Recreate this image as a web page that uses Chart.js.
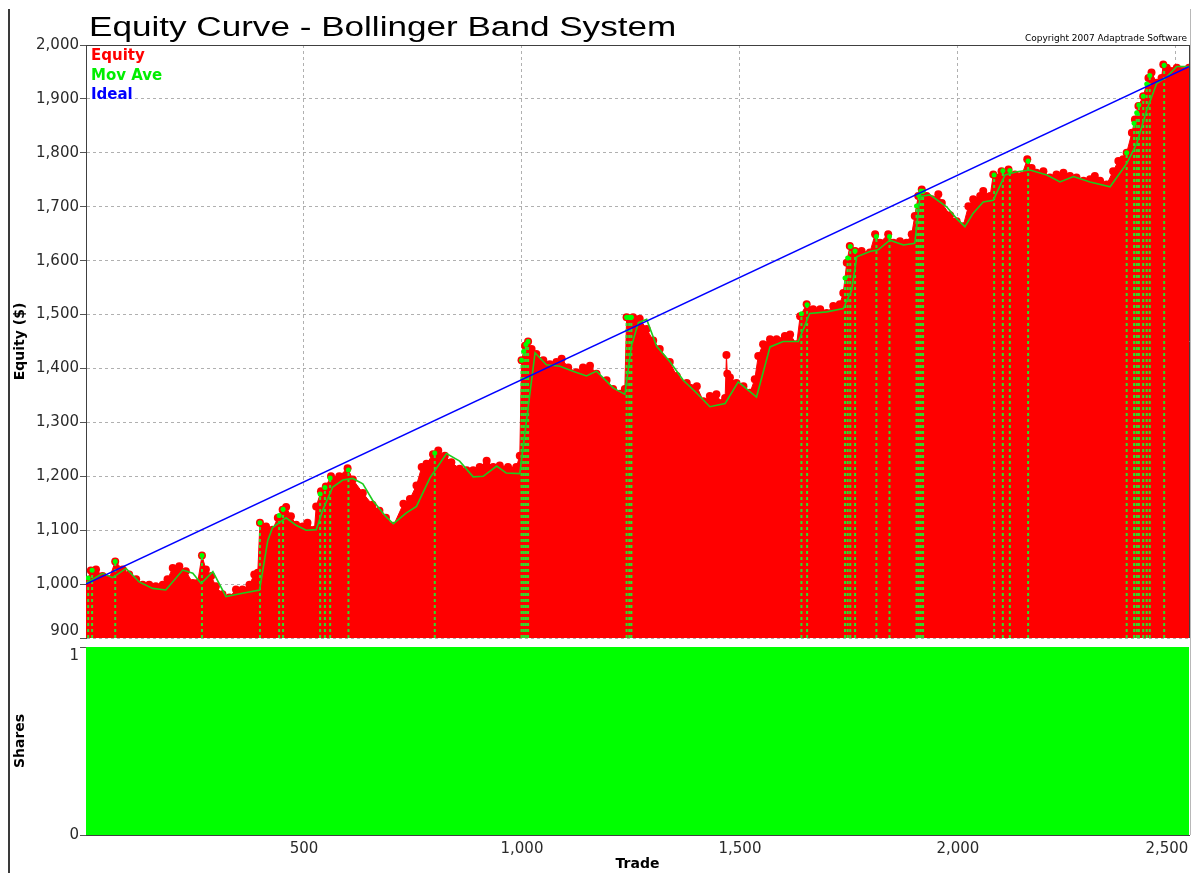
<!DOCTYPE html>
<html><head><meta charset="utf-8">
<script src="https://cdn.jsdelivr.net/npm/chart.js@4.4.1/dist/chart.umd.min.js"></script>
<style>
html,body{margin:0;padding:0;background:#fff;}
#wrap{position:relative;width:1194px;height:873px;overflow:hidden;background:#fff;}
canvas{position:absolute;left:0;top:0;}
.edgeL{position:absolute;left:8px;top:9px;width:2px;height:864px;background:#3a3a3a;}
.edgeR{position:absolute;left:1190px;top:9px;width:1px;height:826px;background:#b8b8b8;}
</style></head><body>
<div id="wrap">
<div class="edgeL"></div><div class="edgeR"></div>
<canvas id="eq" width="1194" height="873"></canvas>
<canvas id="sh" width="1194" height="873"></canvas>
</div>
<script>
const chartTitle = 'Equity Curve - Bollinger Band System';
const copyrightText = 'Copyright 2007 Adaptrade Software';

const equityTrades = [0,11,23,38,53,67,84,99,115,130,145,160,176,187,199,214,229,245,256,266,275,287,298,313,329,344,359,375,386,394,
399,413,428,440,451,459,470,482,497,508,524,528,539,550,562,581,600,612,635,657,673,688,705,728,743,758,770,781,796,808,
823,838,857,873,888,903,919,934,949,968,987,995,999,1007,1014,1022,1033,1049,1064,1079,1091,1106,1125,1140,1156,1171,1194,1209,1225,1236,
1240,1255,1270,1286,1301,1316,1339,1355,1378,1401,1416,1431,1446,1458,1466,1469,1471,1477,1492,1508,1523,1534,1542,1553,1569,1584,1603,1615,1630,
1638,1653,1668,1684,1699,1714,1729,1737,1745,1752,1764,1779,1798,1810,1821,1840,1852,1867,1882,1894,1901,1909,1917,1928,1940,1955,1963,
1982,1997,2012,2024,2035,2051,2058,2074,2081,2093,2100,2116,2131,2146,2159,2169,2180,2196,2211,2226,2242,2257,2272,2288,2303,2314,2326,2341,
2356,2368,2379,2387,2399,2406,2414,2425,2437,2444,2456,2467,2471,2479,2502,2530];
const equityValues = [1000,1025,1027,1015,1009,1042,1027,1018,1009,999,999,996,999,1009,1030,1033,1024,1002,1002,1053,1027,1015,996,981,975,990,990,999,1018,1021,
1114,1107,1101,1123,1138,1143,1126,1110,1107,1114,1101,1144,1172,1181,1200,1200,1215,1194,1169,1147,1136,1123,1108,1149,1158,1183,1217,1223,1241,1248,
1238,1226,1214,1211,1211,1217,1229,1217,1220,1217,1217,1238,1415,1442,1450,1436,1427,1415,1408,1412,1418,1402,1393,1402,1405,1390,1378,1362,1353,1362,
1495,1495,1492,1473,1452,1436,1412,1386,1373,1367,1339,1349,1352,1336,1345,1425,1390,1383,1373,1367,1355,1380,1423,1445,1454,1454,1460,1463,1445,
1497,1519,1510,1510,1503,1516,1519,1540,1596,1627,1618,1618,1615,1649,1633,1649,1633,1636,1633,1649,1683,1720,1732,1720,1714,1723,1707,
1684,1673,1664,1701,1714,1720,1729,1720,1760,1754,1766,1769,1760,1757,1788,1772,1763,1766,1754,1760,1763,1757,1754,1748,1751,1757,1748,1741,
1766,1785,1788,1800,1837,1862,1887,1905,1939,1949,1930,1939,1964,1958,1958,1958];

const movAveTrades = [0,38,61,92,122,153,183,222,245,264,291,321,359,398,417,428,459,482,505,528,543,566,589,612,635,657,688,705,735,758,
789,827,857,888,911,942,964,995,1030,1056,1087,1117,1148,1171,1209,1236,1251,1267,1286,1309,1339,1370,1401,1431,1466,1496,1538,1569,1599,1634,
1660,1699,1737,1756,1768,1798,1817,1844,1875,1901,1913,1936,1974,1997,2016,2035,2058,2081,2108,2135,2165,2204,2234,2265,2303,2349,2387,2410,2433,2456,
2479,2502,2530];
const movAveValues = [1001,1020,1012,1029,1004,992,989,1026,1020,1001,1023,977,983,989,1081,1105,1123,1109,1100,1101,1137,1180,1193,1196,1186,1156,1125,1112,1132,1144,
1197,1242,1228,1199,1200,1219,1206,1205,1429,1407,1404,1395,1386,1395,1364,1352,1441,1485,1491,1441,1413,1378,1354,1329,1335,1375,1347,1440,1450,1450,
1502,1505,1511,1545,1607,1617,1620,1638,1629,1632,1719,1722,1700,1678,1663,1688,1709,1712,1759,1765,1768,1759,1746,1756,1746,1737,1780,1817,1879,1929,
1941,1960,1960];

const idealTrades = [0, 2530];
const idealValues = [1000, 1960];

const signalTrades = [5,14,67,266,399,443,452,537,548,560,602,800,999,1004,1009,1014,1240,1246,1251,1641,1654,1741,1747,1753,1764,1813,1843,
1905,1910,1915,1920,2083,2103,2119,2161,2387,2404,2410,2415,2425,2433,2440,2473];

const shareTrades = [0, 2530];
const shareValues = [1, 1];

const equityTicks = [900,1000,1100,1200,1300,1400,1500,1600,1700,1800,1900,2000];
const tradeTicks = [500,1000,1500,2000,2500];
const shareTicks = [0,1];
const legendOrder = ['Equity','Mov Ave','Ideal'];

Chart.defaults.font.family = '"DejaVu Sans", Verdana, sans-serif';

const pts = (xs, ys) => xs.map((x, i) => ({x, y: ys[i]}));
function equityAt(t){
  for (let i = 1; i < equityTrades.length; i++) {
    if (t <= equityTrades[i]) {
      const a = equityTrades[i-1], b = equityTrades[i];
      const f = (t - a) / (b - a);
      return equityValues[i-1] + f * (equityValues[i] - equityValues[i-1]);
    }
  }
  return equityValues[equityValues.length-1];
}
const yMin = equityTicks[0], yMax = equityTicks[equityTicks.length-1];
const xMax = equityTrades[equityTrades.length-1];
const signalData = signalTrades.flatMap(t => [{x:t, y:yMin}, {x:t, y:equityAt(t)}, {x:t, y:null}]);
const fmt = v => Number(v).toLocaleString('en-US');

const tickFont = {family:'"DejaVu Sans", Verdana, sans-serif', size:15};
const titleFont = {family:'"DejaVu Sans", Verdana, sans-serif', size:14, weight:'bold'};

// keep edge tick labels inside the drawing (as in the reference)
const edgeLabelPlugin = {
  id: 'edgeLabels',
  beforeDraw(chart, args, opts){
    (opts.shifts || []).forEach(s => {
      const sc = chart.scales[s.axis];
      const items = sc.getLabelItems(chart.chartArea);
      items.forEach(it => {
        if (it.label === s.label) {
          it.options.translation[0] += (s.dx || 0);
          it.options.translation[1] += (s.dy || 0);
        }
      });
    });
  }
};
const noPad = ax => { ax.paddingLeft = 0; ax.paddingRight = 0; };

const overlayPlugin = {
  id: 'overlay',
  beforeDatasetsDraw(chart){
    const ctx = chart.ctx, a = chart.chartArea;
    ctx.save();
    ctx.strokeStyle = '#404040'; ctx.lineWidth = 1;
    ctx.beginPath(); ctx.moveTo(a.right + 0.5, a.top); ctx.lineTo(a.right + 0.5, a.bottom); ctx.stroke();
    ctx.restore();
  },
  afterDraw(chart){
    const ctx = chart.ctx, a = chart.chartArea;
    ctx.save();
    ctx.strokeStyle = '#404040'; ctx.lineWidth = 1;
    ctx.beginPath(); ctx.moveTo(a.left, a.top + 0.5); ctx.lineTo(a.right + 1, a.top + 0.5); ctx.stroke();
    ctx.fillStyle = '#000';
    ctx.textAlign = 'left'; ctx.textBaseline = 'alphabetic';
    ctx.font = '27px "Liberation Sans", Arial, sans-serif';
    ctx.save(); ctx.translate(89, 36); ctx.scale(1.3, 1); ctx.fillText(chartTitle, 0, 0); ctx.restore();
    ctx.font = '9px "DejaVu Sans"'; ctx.textAlign = 'right';
    ctx.fillText(copyrightText, a.right - 2, 40.5);
    ctx.textAlign = 'left';
    ctx.font = 'bold 15px "DejaVu Sans"';
    legendOrder.forEach((name, i) => {
      const ds = chart.data.datasets.find(d => d.label === name);
      ctx.fillStyle = ds.legendColor;
      ctx.fillText(name, a.left + 5, a.top + 15 + i * 19.5);
    });
    ctx.restore();
  }
};

new Chart(document.getElementById('eq'), {
  type: 'line',
  data: { datasets: [
    { label:'Ideal', legendColor:'#0000ff', data: pts(idealTrades, idealValues), borderColor:'#0000ff', borderWidth:1.5, pointRadius:0, fill:false, order:0 },
    { label:'Mov Ave', legendColor:'#00ee00', data: pts(movAveTrades, movAveValues), borderColor:'#1ecb1e', borderWidth:1.6, pointRadius:0, fill:false, order:1 },
    { label:'Signals', data: signalData, borderColor:'#2be02b', borderWidth:2, borderDash:[3,3], spanGaps:false,
      pointRadius: c => (c.dataIndex % 3 === 1 ? 2.5 : 0), pointBackgroundColor:'#00ff00', pointBorderWidth:0, fill:false, order:2 },
    { label:'Equity', legendColor:'#ff0000', data: pts(equityTrades, equityValues), borderColor:'#ff0000', backgroundColor:'#ff0000', borderWidth:1,
      pointRadius:4, pointBackgroundColor:'#ff0000', pointBorderWidth:0, fill:'start', order:3 }
  ]},
  options: {
    responsive:false, animation:false, devicePixelRatio:1, events:[],
    layout:{ padding:{left:8, top:45, right:5, bottom:235} },
    plugins:{ legend:{display:false}, tooltip:{enabled:false}, title:{display:false},
      edgeLabels:{shifts:[{axis:'y', label:'900', dy:-7}]} },
    scales:{
      x:{ type:'linear', min:0, max:xMax,
          afterBuildTicks: ax => { ax.ticks = tradeTicks.map(v => ({value:v})); },
          afterFit: ax => { ax.height = 0; noPad(ax); },
          ticks:{display:false},
          grid:{color:'#b0b0b0', drawTicks:false},
          border:{display:false, dash:[3,3]} },
      y:{ type:'linear', min:yMin, max:yMax,
          afterBuildTicks: ax => { ax.ticks = equityTicks.map(v => ({value:v})); },
          afterFit: ax => { ax.width = 78; },
          ticks:{font:tickFont, color:'#2a2a2a', padding:1, callback: v => fmt(v)},
          grid:{color:'#b0b0b0', tickColor:'#555', tickLength:6},
          border:{display:true, color:'#404040', width:1, dash:[3,3]},
          title:{display:true, text:'Equity ($)', font:titleFont, color:'#000', padding:{top:4, bottom:0}} }
    }
  },
  plugins:[overlayPlugin, edgeLabelPlugin]
});

new Chart(document.getElementById('sh'), {
  type: 'line',
  data: { datasets: [
    { label:'Shares', data: pts(shareTrades, shareValues), fill:'origin', backgroundColor:'#00ff00', borderColor:'#00ff00', borderWidth:0, pointRadius:0 }
  ]},
  options: {
    responsive:false, animation:false, devicePixelRatio:1, events:[],
    layout:{ padding:{left:8, top:647, right:5, bottom:0} },
    plugins:{ legend:{display:false}, tooltip:{enabled:false}, title:{display:false},
      edgeLabels:{shifts:[{axis:'y', label:'1', dy:9}, {axis:'x', label:'2,500', dx:-9}]} },
    scales:{
      x:{ type:'linear', min:0, max:xMax,
          afterBuildTicks: ax => { ax.ticks = tradeTicks.map(v => ({value:v})); },
          afterFit: ax => { ax.height = 38; noPad(ax); },
          ticks:{font:tickFont, color:'#2a2a2a', padding:5, callback: v => fmt(v)},
          grid:{drawOnChartArea:false, drawTicks:false},
          border:{display:true, color:'#404040', width:1},
          title:{display:true, text:'Trade', font:titleFont, color:'#000', padding:{top:0, bottom:0}} },
      y:{ type:'linear', min:0, max:1,
          afterBuildTicks: ax => { ax.ticks = shareTicks.map(v => ({value:v})); },
          afterFit: ax => { ax.width = 78; },
          ticks:{font:tickFont, color:'#2a2a2a', padding:1, callback: v => fmt(v)},
          grid:{drawOnChartArea:false, tickColor:'#555', tickLength:6},
          border:{display:true, color:'#404040', width:1},
          title:{display:true, text:'Shares', font:titleFont, color:'#000', padding:{top:4, bottom:0}} }
    }
  },
  plugins:[edgeLabelPlugin]
});
</script>
</body></html>
